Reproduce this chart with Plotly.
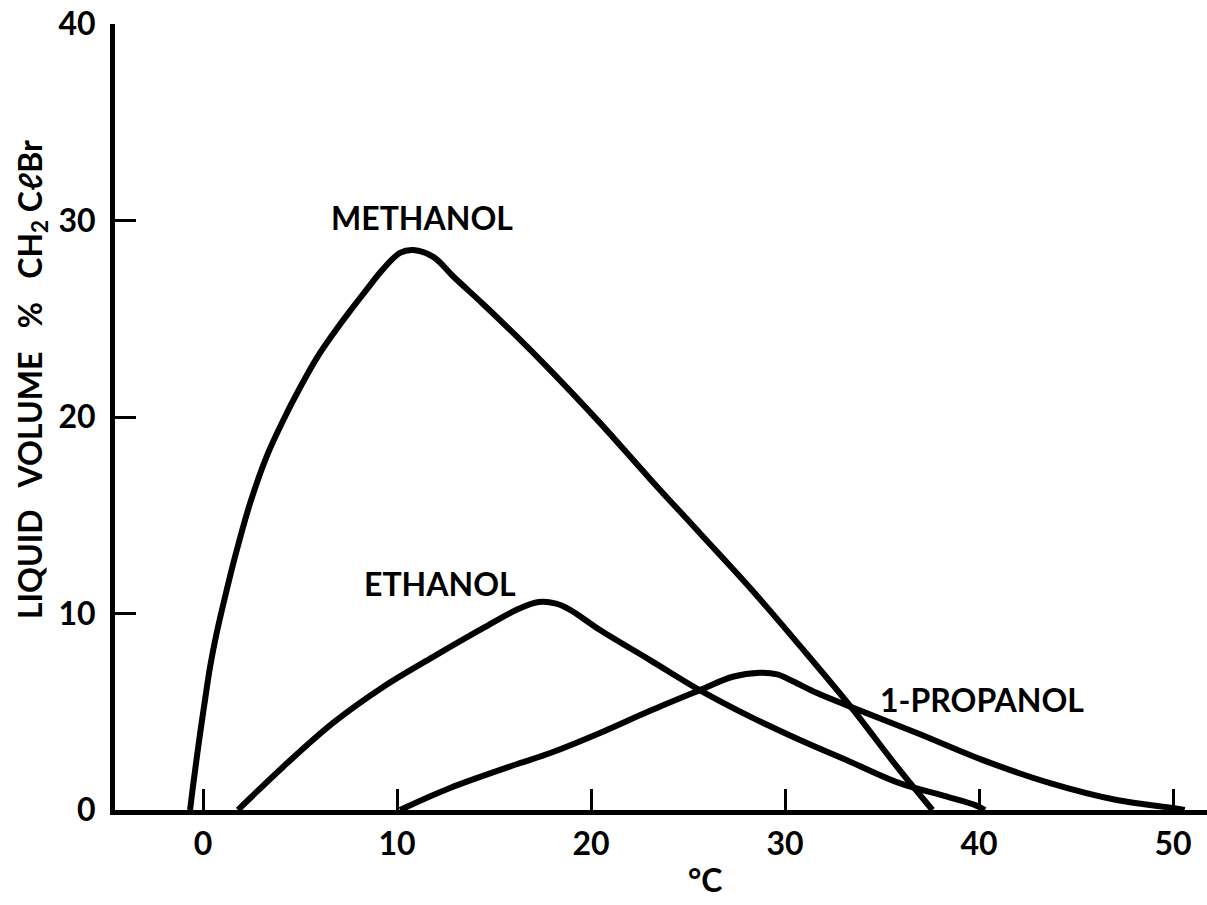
import plotly.graph_objects as go

# Liquid-phase CH2ClBr content versus temperature for three alcohols
methanol_t = [-0.67, -0.5, -0.15, 0.1, 0.36, 0.7, 1.22, 1.65, 2.42, 3.28, 4.14,
              5.0, 5.86, 6.72, 7.58, 8.44, 9.3, 10.15, 10.84, 11.87, 12.9,
              14.43, 16.17, 17.78, 20.46, 23.04, 25.6, 28.2, 30.77, 33.35,
              35.9, 37.6]
methanol_v = [0.0, 1.36, 3.92, 5.6, 7.28, 9.0, 11.2, 12.9, 15.6, 18.0, 19.85,
              21.5, 23.0, 24.25, 25.4, 26.5, 27.55, 28.35, 28.5, 28.15, 27.15,
              25.75, 24.1, 22.5, 19.7, 16.85, 14.1, 11.3, 8.35, 5.3,
              2.04, 0.0]

ethanol_t = [1.8, 4.12, 6.7, 9.28, 11.86, 14.43, 16.19, 17.3, 18.2, 18.9, 20.46,
             23.04, 25.6, 28.2, 30.77, 33.35, 35.9, 38.35, 39.8, 40.3]
ethanol_v = [0.0, 2.19, 4.43, 6.26, 7.79, 9.25, 10.2, 10.58, 10.5, 10.2, 9.16,
             7.63, 6.1, 4.75, 3.56, 2.46, 1.37, 0.68, 0.25, 0.0]

propanol_t = [10.15, 12.73, 16.17, 17.9, 20.46, 23.04, 25.6, 27.3, 28.7, 29.6,
              30.4, 31.65, 33.35, 36.8, 40.2, 43.66, 47.1, 50.0, 50.6]
propanol_v = [0.0, 1.12, 2.33, 2.9, 3.92, 5.05, 6.1, 6.78, 6.98, 6.9, 6.55,
              5.95, 5.26, 3.92, 2.54, 1.37, 0.51, 0.1, 0.0]

x_ticks = [0, 10, 20, 30, 40, 50]
y_ticks = [0, 10, 20, 30, 40]

series_labels = ["METHANOL", "ETHANOL", "1-PROPANOL"]
label_pos = [(11.3, 30.15), (12.2, 11.55), (40.15, 5.6)]

FONT = dict(size=32, color="black", family="Lato", weight="bold")
GAP = "\u00a0\u00a0\u00a0"

fig = go.Figure()
for t, v in [(methanol_t, methanol_v), (ethanol_t, ethanol_v), (propanol_t, propanol_v)]:
    fig.add_trace(go.Scatter(
        x=t, y=v, mode="lines",
        line=dict(color="black", width=6, shape="spline", smoothing=1.0),
        showlegend=False, hoverinfo="skip",
    ))

for text, (lx, ly) in zip(series_labels, label_pos):
    fig.add_annotation(x=lx, y=ly, text=text, showarrow=False,
                       xanchor="center", yanchor="middle", font=FONT)

# axis titles
y_title = ("LIQUID" + GAP + "VOLUME" + GAP + "%" + GAP
           + "CH<sub>2</sub>\u00a0CℓBr")
fig.add_annotation(xref="paper", yref="paper", x=-0.0762, y=0.548,
                   xanchor="center", yanchor="middle",
                   text=y_title, textangle=-90,
                   showarrow=False, font=FONT)
fig.add_annotation(xref="paper", yref="paper", x=0.540, y=-0.089,
                   xanchor="center", yanchor="middle",
                   text="°C", showarrow=False, font=FONT)

axis_common = dict(
    showline=True, linecolor="black", linewidth=5,
    showgrid=False, zeroline=False,
    ticks="inside", tickcolor="black", tickwidth=3, ticklen=21,
    tickfont=FONT,
)

fig.update_xaxes(range=[-4.54, 51.75], tickvals=x_ticks, ticklabelstandoff=2,
                 **axis_common)
fig.update_yaxes(range=[0, 40], tickvals=y_ticks, ticklabelstandoff=8,
                 **axis_common)

fig.update_layout(
    width=1207, height=905,
    margin=dict(l=115, r=0, t=24, b=95),
    paper_bgcolor="white", plot_bgcolor="white",
    font=dict(family="Lato", color="black"),
)

fig.write_html("out.html")
